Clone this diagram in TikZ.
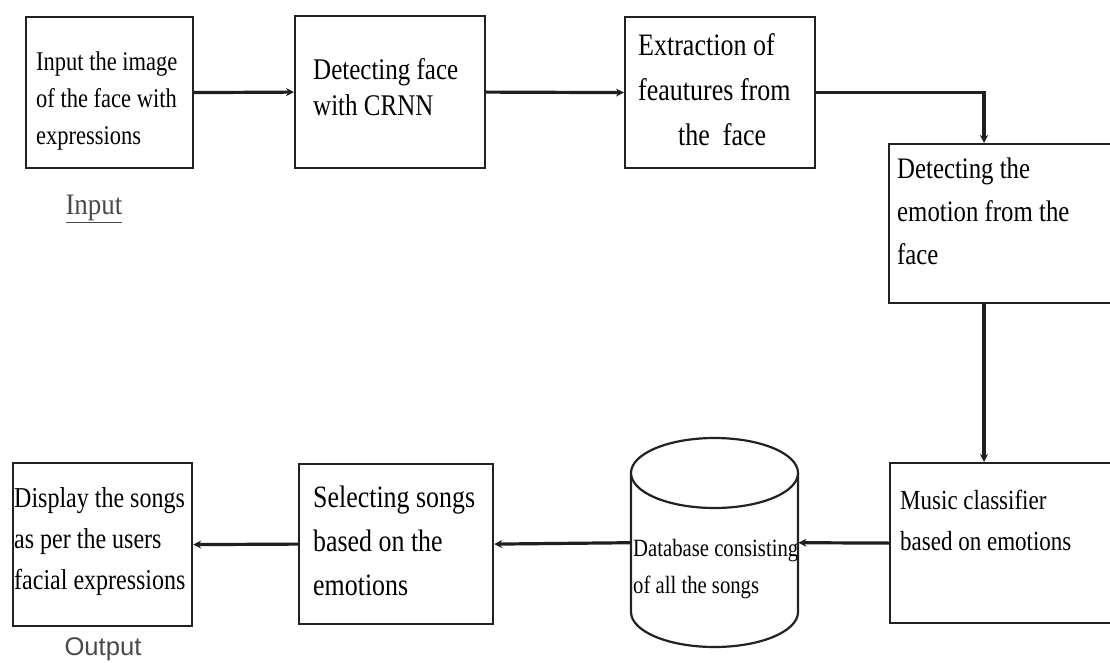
\documentclass[tikz,border=0pt]{standalone}
\usepackage{fontspec}
\setmainfont{Liberation Serif}
\setsansfont{Liberation Sans}
\usetikzlibrary{arrows.meta}
\definecolor{edge}{HTML}{222222}
\definecolor{lbl}{HTML}{4A4A4A}
\newcommand\stxt[1]{\scalebox{1}[1.2]{\begin{tabular}{@{}l@{}}#1\end{tabular}}}
\tikzset{
  box/.style={draw=edge, line width=2.2pt, rectangle, inner sep=0pt, anchor=north west, fill=white},
  txt/.style={anchor=west, align=left, inner sep=0pt, text=black},
  flow/.style={draw=black!88, line width=3.2pt, -{Stealth[length=8pt,width=8pt]}},
  fs/.style n args={2}{font=\fontsize{#1}{#2}\selectfont}
}
\begin{document}
\begin{tikzpicture}[x=1pt,y=-1pt]
\useasboundingbox (0,0) rectangle (1110,663);
\fill[white] (0,0) rectangle (1110,663);
% boxes
\node[box, minimum width=167, minimum height=151] (b1) at (25,16) {};
\node[box, minimum width=190, minimum height=152] (b2) at (294,15) {};
\node[box, minimum width=190, minimum height=151] (b3) at (624,16) {};
\node[box, minimum width=260, minimum height=159] (b4) at (888,143) {};
\node[box, minimum width=260, minimum height=160] (b5) at (889,462) {};
\node[box, minimum width=194, minimum height=160] (b6) at (298,463) {};
\node[box, minimum width=179, minimum height=163] (b7) at (12,462) {};
% database cylinder
\node[minimum width=167, minimum height=209, inner sep=0pt, anchor=north west] (db) at (631,438) {};
\draw[edge, line width=2.2pt, fill=white] (631,473) -- (631,612) arc[start angle=180, end angle=0, x radius=83.5, y radius=35] -- (798,473);
\draw[edge, line width=2.2pt, fill=white] (714.5,473) ellipse[x radius=83.5, y radius=35];
% texts
\node[txt, fs={22.5}{30.8}] (t1) at (36,100) {\stxt{Input the image\\of the face with\\expressions}};
\node[txt, fs={25}{30}] (t2) at (313,90) {\stxt{Detecting face\\with CRNN}};
\node[txt, fs={26}{37.5}] (t3) at (638,92) {\stxt{Extraction of\\feautures from\\\hspace*{40pt}the\ \ face}};
\node[txt, fs={24.8}{35.8}] (t4) at (897,213) {\stxt{Detecting the\\emotion from the\\face}};
\node[txt, fs={23}{34.2}] (t5) at (900,522) {\stxt{Music classifier\\based on emotions}};
\node[txt, fs={25.9}{36.7}] (t6) at (313,543) {\stxt{Selecting songs\\based on the\\emotions}};
\node[txt, fs={24}{34.2}] (t7) at (14,540) {\stxt{Display the songs\\as per the users\\facial expressions}};
\node[txt, fs={20.7}{30.8}] (tdb) at (633,568) {\stxt{Database consisting\\of all the songs}};
% labels
\node[inner sep=0pt, text=lbl, fs={27}{30}] (lin) at (94,209) {\scalebox{1}[1.1]{\underline{Input}}};
\node[inner sep=0pt, text=lbl, font=\sffamily\fontsize{25.6}{30}\selectfont, anchor=base] (lout) at (103,655) {Output};
% connectors
\coordinate (turn) at ([xshift=96pt]b4.north west);
\coordinate (down) at ([xshift=96pt]b4.south west);
\draw[flow] (b1.east) -- (b2.west);
\draw[flow] (b2.east) -- (b3.west);
\draw[flow] (b3.east) -| (turn);
\draw[flow] (down) -- (down |- b5.north);
\draw[flow] (b5.west) -- (db.east);
\draw[flow] (db.west) -- (b6.east);
\draw[flow] (b6.west) -- (b7.east);
\end{tikzpicture}
\end{document}
